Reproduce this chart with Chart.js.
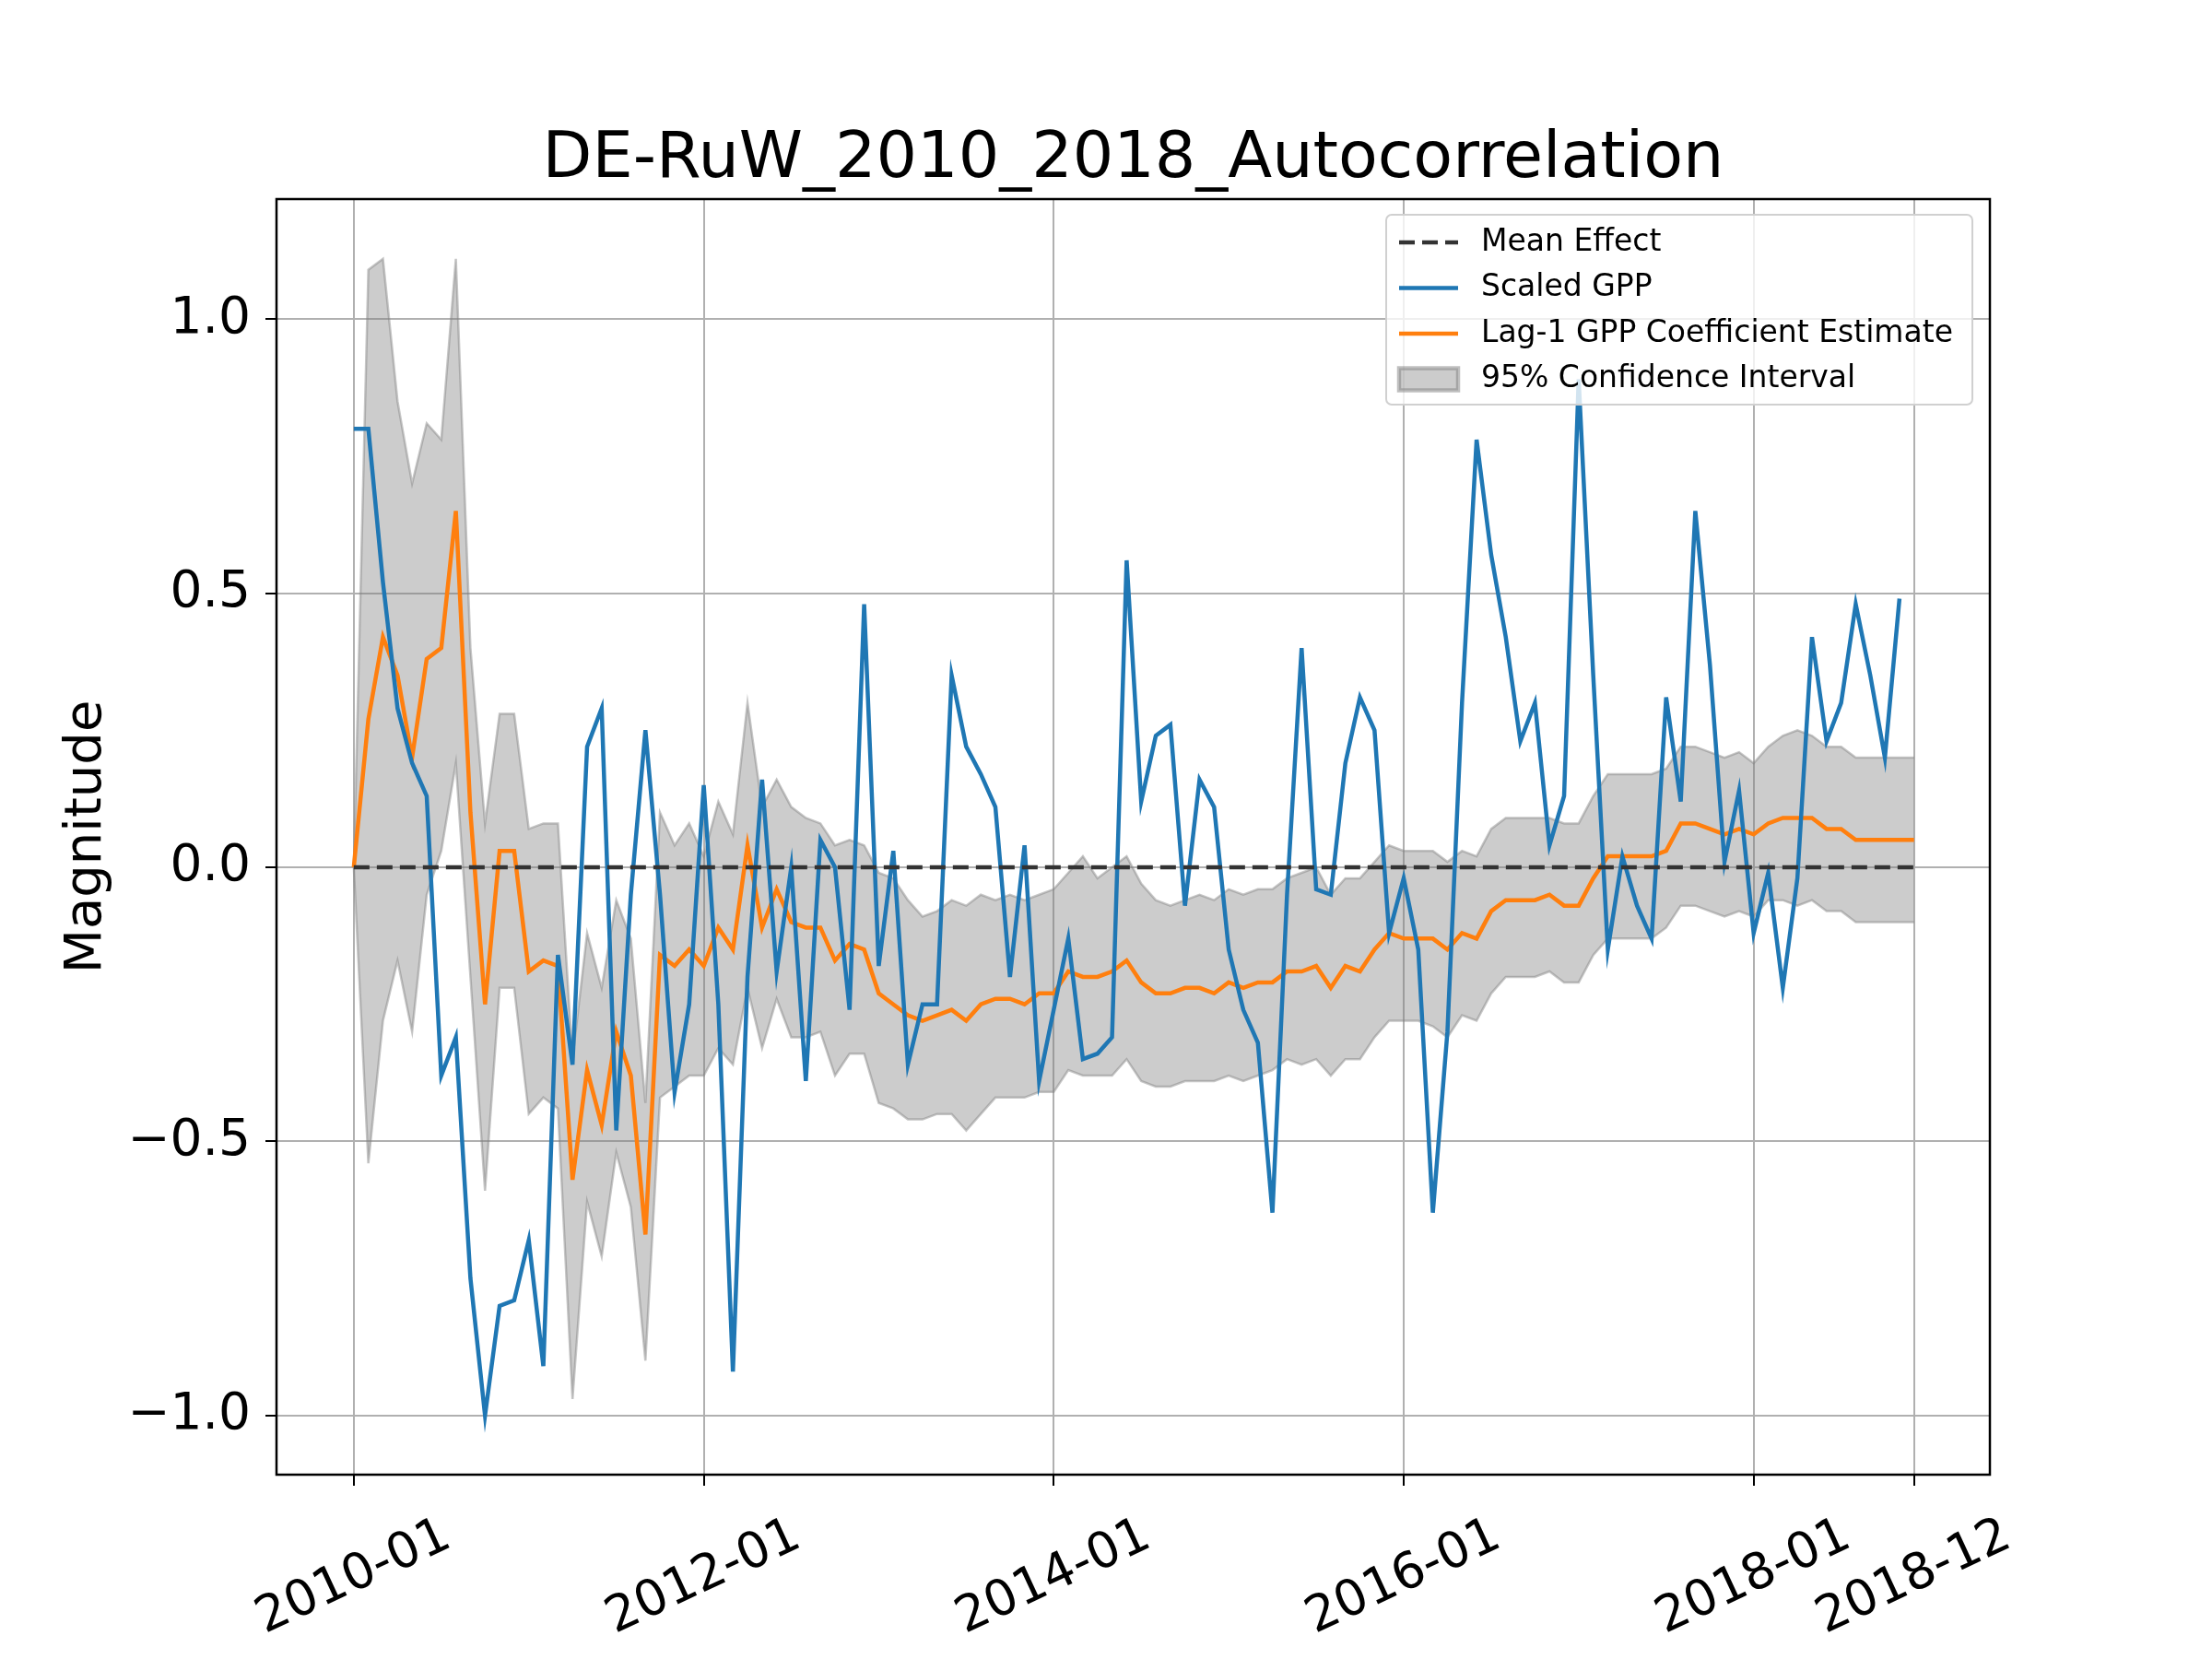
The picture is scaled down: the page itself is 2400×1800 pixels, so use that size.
<!DOCTYPE html>
<html>
<head>
<meta charset="utf-8">
<script src="https://cdn.jsdelivr.net/npm/chart.js@4"></script>
<style>body{margin:0;background:#fff}</style>
</head>
<body>
<canvas id="myChart" width="2400" height="1800"></canvas>
<script>
// month index 0 = 2010-01 ... 107 = 2018-12
const tickIdx = [0, 24, 48, 72, 96, 107];
const tickLabels = ["2010-01", "2012-01", "2014-01", "2016-01", "2018-01", "2018-12"];

const gpp = [
    0.80, 0.80, 0.52, 0.29, 0.19, 0.13, -0.38, -0.31, -0.75, -1.00, -0.80, -0.79,
    -0.68, -0.91, -0.16, -0.36, 0.22, 0.29, -0.48, -0.05, 0.25, -0.05, -0.41, -0.25,
    0.15, -0.25, -0.92, -0.20, 0.16, -0.19, 0.00, -0.39, 0.05, 0.00, -0.26, 0.48,
    -0.18, 0.03, -0.36, -0.25, -0.25, 0.35, 0.22, 0.17, 0.11, -0.20, 0.04, -0.39,
    -0.26, -0.13, -0.35, -0.34, -0.31, 0.56, 0.12, 0.24, 0.26, -0.07, 0.16, 0.11,
    -0.15, -0.26, -0.32, -0.63, -0.05, 0.40, -0.04, -0.05, 0.19, 0.31, 0.25, -0.12,
    -0.02, -0.15, -0.63, -0.30, 0.30, 0.78, 0.57, 0.42, 0.23, 0.30, 0.04, 0.13,
    0.89, 0.35, -0.15, 0.02, -0.07, -0.13, 0.31, 0.12, 0.65, 0.37, 0.01, 0.14,
    -0.12, -0.01, -0.22, -0.02, 0.42, 0.23, 0.30, 0.48, 0.35, 0.20, 0.49, null
];
const lag1 = [
    0.00, 0.27, 0.42, 0.35, 0.20, 0.38, 0.40, 0.65, 0.10, -0.25, 0.03, 0.03,
    -0.19, -0.17, -0.18, -0.57, -0.37, -0.47, -0.30, -0.38, -0.67, -0.16, -0.18, -0.15,
    -0.18, -0.11, -0.15, 0.04, -0.11, -0.04, -0.10, -0.11, -0.11, -0.17, -0.14, -0.15,
    -0.23, -0.25, -0.27, -0.28, -0.27, -0.26, -0.28, -0.25, -0.24, -0.24, -0.25, -0.23,
    -0.23, -0.19, -0.20, -0.20, -0.19, -0.17, -0.21, -0.23, -0.23, -0.22, -0.22, -0.23,
    -0.21, -0.22, -0.21, -0.21, -0.19, -0.19, -0.18, -0.22, -0.18, -0.19, -0.15, -0.12,
    -0.13, -0.13, -0.13, -0.15, -0.12, -0.13, -0.08, -0.06, -0.06, -0.06, -0.05, -0.07,
    -0.07, -0.02, 0.02, 0.02, 0.02, 0.02, 0.03, 0.08, 0.08, 0.07, 0.06, 0.07,
    0.06, 0.08, 0.09, 0.09, 0.09, 0.07, 0.07, 0.05, 0.05, 0.05, 0.05, 0.05
];
const ciUpper = [
    0.00, 1.09, 1.11, 0.85, 0.70, 0.81, 0.78, 1.11, 0.40, 0.08, 0.28, 0.28,
    0.07, 0.08, 0.08, -0.35, -0.12, -0.22, -0.06, -0.13, -0.43, 0.10, 0.04, 0.08,
    0.02, 0.12, 0.06, 0.30, 0.11, 0.16, 0.11, 0.09, 0.08, 0.04, 0.05, 0.04,
    -0.01, -0.02, -0.06, -0.09, -0.08, -0.06, -0.07, -0.05, -0.06, -0.05, -0.06, -0.05,
    -0.04, -0.01, 0.02, -0.02, 0.00, 0.02, -0.03, -0.06, -0.07, -0.06, -0.05, -0.06,
    -0.04, -0.05, -0.04, -0.04, -0.02, -0.01, 0.00, -0.05, -0.02, -0.02, 0.01, 0.04,
    0.03, 0.03, 0.03, 0.01, 0.03, 0.02, 0.07, 0.09, 0.09, 0.09, 0.09, 0.08,
    0.08, 0.13, 0.17, 0.17, 0.17, 0.17, 0.18, 0.22, 0.22, 0.21, 0.20, 0.21,
    0.19, 0.22, 0.24, 0.25, 0.24, 0.22, 0.22, 0.20, 0.20, 0.20, 0.20, 0.20
];
const ciLower = [
    0.00, -0.54, -0.28, -0.17, -0.30, -0.05, 0.03, 0.19, -0.20, -0.59, -0.22, -0.22,
    -0.45, -0.42, -0.44, -0.97, -0.61, -0.71, -0.52, -0.62, -0.90, -0.42, -0.40, -0.38,
    -0.38, -0.33, -0.36, -0.22, -0.33, -0.24, -0.31, -0.31, -0.30, -0.38, -0.34, -0.34,
    -0.43, -0.44, -0.46, -0.46, -0.45, -0.45, -0.48, -0.45, -0.42, -0.42, -0.42, -0.41,
    -0.41, -0.37, -0.38, -0.38, -0.38, -0.35, -0.39, -0.40, -0.40, -0.39, -0.39, -0.39,
    -0.38, -0.39, -0.38, -0.37, -0.35, -0.36, -0.35, -0.38, -0.35, -0.35, -0.31, -0.28,
    -0.28, -0.28, -0.29, -0.31, -0.27, -0.28, -0.23, -0.20, -0.20, -0.20, -0.19, -0.21,
    -0.21, -0.16, -0.13, -0.13, -0.13, -0.13, -0.11, -0.07, -0.07, -0.08, -0.09, -0.08,
    -0.09, -0.06, -0.06, -0.07, -0.06, -0.08, -0.08, -0.10, -0.10, -0.10, -0.10, -0.10
];
const meanEffect = [0, 0];

const pts = arr => arr.map((v, i) => ({ x: i, y: v }));
const FONT = "'DejaVu Sans'";

const frame = {
    id: "frame",
    afterDraw(c) {
        const ctx = c.ctx, a = c.chartArea;
        ctx.save();
        ctx.strokeStyle = "#000";
        ctx.lineWidth = 2.5;
        ctx.strokeRect(a.left, a.top, a.right - a.left, a.bottom - a.top);
        // title
        ctx.fillStyle = "#000";
        ctx.font = "70px " + FONT;
        ctx.textAlign = "center";
        ctx.textBaseline = "alphabetic";
        ctx.fillText("DE-RuW_2010_2018_Autocorrelation", (a.left + a.right) / 2, 192);
        // x tick labels, rotated and centred on the tick
        const xs = c.scales.x;
        ctx.font = "54px " + FONT;
        ctx.textBaseline = "middle";
        tickIdx.forEach((v, i) => {
            ctx.save();
            ctx.translate(xs.getPixelForValue(v), a.bottom + 112);
            ctx.rotate(-25 * Math.PI / 180);
            ctx.fillText(tickLabels[i], 0, 0);
            ctx.restore();
        });
        // legend
        const bx = 1504, by = 233, bw = 636, bh = 206;
        ctx.fillStyle = "rgba(255,255,255,0.8)";
        ctx.strokeStyle = "#d0d0d0";
        ctx.lineWidth = 2;
        ctx.beginPath();
        ctx.roundRect(bx, by, bw, bh, 6);
        ctx.fill();
        ctx.stroke();
        const items = [
            { t: "Mean Effect", k: "dash" },
            { t: "Scaled GPP", k: "#1f77b4" },
            { t: "Lag-1 GPP Coefficient Estimate", k: "#ff7f0e" },
            { t: "95% Confidence Interval", k: "box" }
        ];
        ctx.font = "33px " + FONT;
        ctx.textAlign = "left";
        ctx.textBaseline = "middle";
        items.forEach((it, i) => {
            const y = by + 30 + i * 49.5;
            const x0 = bx + 14, x1 = bx + 78;
            if (it.k === "box") {
                ctx.fillStyle = "rgba(128,128,128,0.4)";
                ctx.fillRect(x0, y - 12, x1 - x0, 24);
                ctx.strokeStyle = "rgba(128,128,128,0.5)";
                ctx.strokeRect(x0, y - 12, x1 - x0, 24);
            } else {
                ctx.beginPath();
                ctx.strokeStyle = it.k === "dash" ? "#333" : it.k;
                ctx.lineWidth = 4.5;
                ctx.setLineDash(it.k === "dash" ? [17, 8] : []);
                ctx.moveTo(x0, y);
                ctx.lineTo(x1, y);
                ctx.stroke();
                ctx.setLineDash([]);
            }
            ctx.fillStyle = "#000";
            ctx.fillText(it.t, bx + 103, y);
        });
        ctx.restore();
    }
};

new Chart(document.getElementById("myChart"), {
    type: "line",
    data: {
        datasets: [
            {
                label: "95% Confidence Interval",
                data: pts(ciUpper),
                borderColor: "rgba(128,128,128,0.45)",
                borderWidth: 2.5,
                backgroundColor: "rgba(128,128,128,0.4)",
                fill: "+1",
                pointRadius: 0,
                order: 3
            },
            {
                label: "lower",
                data: pts(ciLower),
                borderColor: "rgba(128,128,128,0.45)",
                borderWidth: 2.5,
                fill: false,
                pointRadius: 0,
                order: 3
            },
            {
                label: "Mean Effect",
                data: [{ x: 0, y: meanEffect[0] }, { x: 107, y: meanEffect[1] }],
                borderColor: "#333",
                borderWidth: 4.5,
                borderDash: [17, 8],
                fill: false,
                pointRadius: 0,
                order: 0
            },
            {
                label: "Scaled GPP",
                data: pts(gpp),
                borderColor: "#1f77b4",
                borderWidth: 4.5,
                fill: false,
                pointRadius: 0,
                order: 1
            },
            {
                label: "Lag-1 GPP Coefficient Estimate",
                data: pts(lag1),
                borderColor: "#ff7f0e",
                borderWidth: 4.5,
                fill: false,
                pointRadius: 0,
                order: 2
            }
        ]
    },
    options: {
        animation: false,
        responsive: false,
        devicePixelRatio: 1,
        layout: { padding: { top: 216, right: 241, left: 57, bottom: 0 } },
        plugins: { legend: { display: false }, title: { display: false }, tooltip: { enabled: false } },
        scales: {
            x: {
                type: "linear",
                min: -5.3,
                max: 112.2,
                afterBuildTicks: ax => { ax.ticks = tickIdx.map(v => ({ value: v })); },
                afterFit: ax => { ax.height = 200; },
                ticks: { display: false },
                grid: { color: "#b0b0b0", lineWidth: 2, tickColor: "#000", tickLength: 12 },
                border: { display: false }
            },
            y: {
                min: -1.108,
                max: 1.219,
                afterBuildTicks: ax => { ax.ticks = [-1, -0.5, 0, 0.5, 1].map(v => ({ value: v })); },
                afterFit: ax => { ax.width = 243; },
                ticks: {
                    color: "#000",
                    padding: 16,
                    font: { family: FONT, size: 55 },
                    callback: v => v.toFixed(1).replace("-", "\u2212")
                },
                title: { display: true, text: "Magnitude", color: "#000", font: { family: FONT, size: 56 } },
                grid: { color: "#b0b0b0", lineWidth: 2, tickColor: "#000", tickLength: 12 },
                border: { display: false }
            }
        }
    },
    plugins: [frame]
});
</script>
</body>
</html>
